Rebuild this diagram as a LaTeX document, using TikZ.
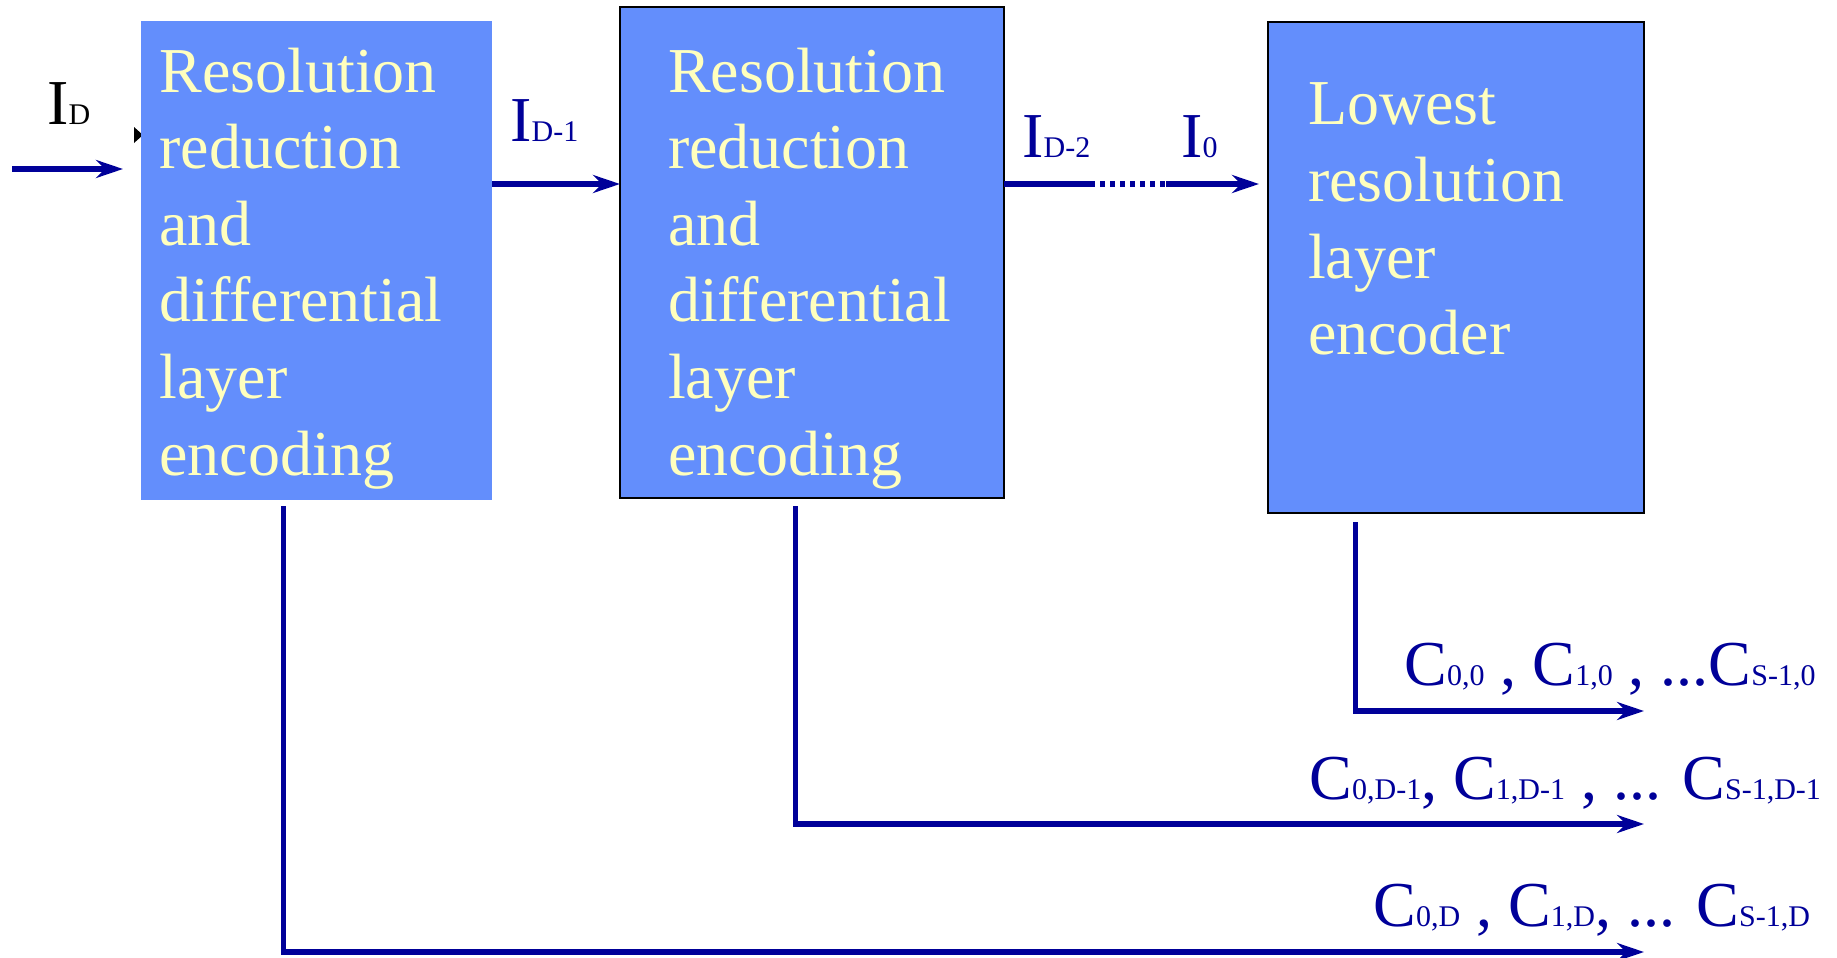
\documentclass[tikz,border=0pt]{standalone}
\usepackage{fontspec}
\setmainfont{Liberation Serif}
\usetikzlibrary{arrows.meta}
\definecolor{boxblue}{RGB}{99,142,252}
\definecolor{txtyellow}{RGB}{255,255,190}
\definecolor{navy}{RGB}{0,0,153}
\newcommand\subs[1]{{\fontsize{15}{15}\selectfont #1}}
\begin{document}
\begin{tikzpicture}[x=0.5pt,y=-0.5pt,
  blk/.style={rectangle, fill=boxblue, inner sep=0pt, outer sep=0pt, anchor=north west},
  blkline/.style={draw=black, line width=1.4pt},
  boxtext/.style={anchor=base west, inner sep=0pt, outer sep=0pt, text=txtyellow, align=left,
    font=\fontsize{32}{38.3}\selectfont, text width=180pt},
  lab/.style={anchor=base west, inner sep=0pt, text=navy, font=\fontsize{32}{38}\selectfont},
  arr/.style={draw=navy, line width=2.8pt, -{Stealth[length=13.5pt,width=9pt,inset=4.5pt]}},
  wire/.style={draw=navy, line width=2.8pt},
]
\useasboundingbox (0,0) rectangle (1837,958);

% small black arrow tip peeking out behind the first box
\fill[black] (134,127) -- (143,135) -- (134,143) -- cycle;

% boxes
\node[blk, minimum width=175.7pt, minimum height=239.5pt] (b1) at (140.6,21) {};
\node[blk, blkline, minimum width=192pt, minimum height=245.5pt] (b2) at (620,7) {};
\node[blk, blkline, minimum width=188pt, minimum height=245.5pt] (b3) at (1268,22) {};

% box texts
\node[boxtext] (t1) at (159.5,92) {Resolution\\reduction\\and\\differential\\layer\\encoding};
\node[boxtext] (t2) at (668,92) {Resolution\\reduction\\and\\differential\\layer\\encoding};
\node[boxtext, font=\fontsize{32}{38.5}\selectfont] (t3) at (1308,124) {Lowest\\resolution\\layer\\encoder};

% coordinates
\coordinate (inA) at (12,169);
\coordinate (y1) at (0,184);
\coordinate (d1) at (1090,184);
\coordinate (d2) at (1166,184);
\coordinate (x1) at (283.5,0);
\coordinate (x2) at (795.5,0);
\coordinate (x3) at (1355.5,0);
\coordinate (o1) at (1644,711);
\coordinate (o2) at (1644,824);
\coordinate (o3) at (1644,952);

% connectors
\draw[arr, shorten >=8.8pt] (inA) -- (inA -| b1.west);
\draw[arr] (b1.east |- y1) -- (b2.west |- y1);
\draw[wire] (b2.east |- d1) -- (d1);
\draw[wire, dash pattern=on 2.5pt off 2.5pt] (d1) -- (d2);
\draw[arr, shorten >=4.5pt] (d2) -- (b3.west |- d2);
\draw[arr, shorten <=3pt] (b1.south -| x1) |- (o3);
\draw[arr, shorten <=4pt] (b2.south -| x2) |- (o2);
\draw[arr, shorten <=4.5pt] (b3.south -| x3) |- (o1);

% labels
\node[lab, text=black] (lD) at (47,124) {I\subs{D}};
\node[lab] (lD1) at (510,141) {I\subs{D-1}};
\node[lab] (lD2) at (1022,157) {I\subs{D-2}};
\node[lab] (l0) at (1181,157) {I\subs{0}};
\node[lab] (r1) at (1404,685) {C\subs{0,0} , C\subs{1,0} , ...C\subs{S-1,0}};
\node[lab] (r2) at (1309,799) {C\subs{0,D-1}, C\subs{1,D-1} , ... C\subs{S-1,D-1}};
\node[lab] (r3) at (1373,926) {C\subs{0,D} , C\subs{1,D}, ... C\subs{S-1,D}};
\end{tikzpicture}
\end{document}
